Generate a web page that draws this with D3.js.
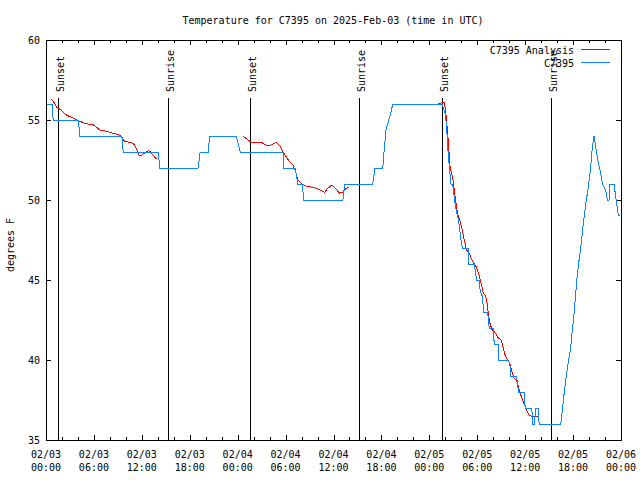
<!DOCTYPE html>
<html>
<head>
<meta charset="utf-8">
<script src="https://cdn.jsdelivr.net/npm/d3@7"></script>
<style>
  html, body { margin: 0; padding: 0; background: #fff; }
  svg text { font-family: "DejaVu Sans Mono", "Liberation Mono", monospace; font-size: 10px; fill: #000; }
</style>
</head>
<body>
<svg id="chart" width="640" height="480"></svg>
<script>
// hours after 2025-02-03 00:00 UTC
const startUtc = Date.UTC(2025, 1, 3)
const endUtc = Date.UTC(2025, 1, 6)

const sunsetHours = [1.54, 25.59, 49.54]
const sunriseHours = [15.29, 39.16, 63.2]

// station observations (C7395)
const obsHours = [
  0, 0.75, 0.9, 4.04, 4.25, 9.5, 9.66, 14.04, 14.25, 19.04, 19.3, 20.3, 20.5, 23.83,
  24.33, 29.67, 29.79, 31.2, 31.54, 32.08, 32.29, 37.17, 37.42, 40.92, 41.2, 42.17,
  42.375, 42.58, 42.92, 43.125, 43.42, 49.6,
  50.0, 50.16, 50.29, 50.5, 50.71, 50.92, 51.125, 51.25, 51.41, 51.66, 51.84, 52.04,
  52.16, 52.875, 52.91, 53.625, 53.91, 54.25, 54.375, 54.66, 54.79, 55.29, 55.5, 56.0,
  56.125, 56.66, 56.7, 57.91, 58.09, 58.21, 58.91, 59.16, 59.875, 60.0, 60.84, 60.91,
  61.125, 61.34, 61.625, 61.75, 64.46, 64.66, 64.875, 65.09, 65.375, 65.71, 65.91,
  66.125, 66.34, 66.54, 66.75, 67.0, 67.25, 67.59, 67.91, 68.21, 68.41, 68.625, 68.84,
  69.04, 69.25, 69.46, 69.66, 70.09, 70.29, 70.5, 70.59, 71.125, 71.34, 71.66, 71.9
]
const obsTemps = [
  56, 56, 55, 55, 54, 54, 53, 53, 52, 52, 53, 53, 54, 54,
  53, 53, 52, 52, 51, 51, 50, 50, 51, 51, 52, 52,
  53.3, 54.4, 55, 55.3, 56, 56,
  55.4, 54.6, 53.4, 52.1, 51, 51, 50.2, 49.7, 49.27, 48.75, 48, 47.19,
  47, 47, 46, 46, 45, 45, 44.27, 43.96, 43, 43, 42, 42,
  41, 41, 40, 40, 39.7, 39, 39, 38, 38, 37, 37, 36,
  36, 37, 37, 36, 36, 36.9, 37.9, 38.75, 39.8, 40.8, 41.9,
  42.9, 44.2, 45.4, 46.25, 47.2, 48.4, 49.8, 50.8, 52.1, 53.3, 54, 53.3,
  52.7, 52.1, 51.7, 51.04, 50.6, 50, 50, 51, 51, 50.2, 49.06, 49
]

// analysis series, null marks a gap
const anaHours = [
  0.625, 0.875, 1.33, 1.75, 2.58, 3.21, 3.83, 4.67, 5.29, 5.92, 6.33, 6.75, 7.58, 8.42,
  9.04, 9.46, 9.75, 10.29, 10.92, 11.25, 11.67, 11.96, 12.375, 12.79, 13.08, 13.42, 13.75, 13.96,
  null,
  24.67, 25.29, 25.71, 26.96, 27.79, 28.25, 28.83, 29.25, 29.67, 30.08, 30.5, 30.92, 31.25,
  31.54, 31.96, 32.375, 33.0, 33.83, 34.33, 34.875, 35.29, 35.79, 36.25, 36.75, 37.17, 37.58, 37.92,
  null,
  48.625, 49.04, 49.67, 49.875, 50.0, 50.16, 50.29, 50.41, 50.5, 50.59, 50.75, 50.92, 51.125,
  51.34, 51.54, 51.84, 52.09, 52.375, 52.66, 53.0, 53.34, 53.625, 53.91, 54.16, 54.375, 54.59,
  54.75, 55.0, 55.21, 55.375, 55.59, 55.84, 56.125, 56.41, 56.66, 56.96, 57.16, 57.41, 57.79,
  58.09, 58.34, 58.625, 58.91, 59.16, 59.46, 59.75, 60.09, 60.5, 60.91, 61.66
]
const anaTemps = [
  56.3, 56.2, 55.8, 55.67, 55.3, 55.17, 55.0, 54.83, 54.75, 54.7, 54.54, 54.375, 54.29, 54.17,
  54.08, 53.96, 53.7, 53.62, 53.54, 53.29, 52.8, 52.8, 52.96, 53.08, 53.0, 52.8, 52.6, 52.6,
  null,
  54.0, 53.75, 53.6, 53.6, 53.375, 53.45, 53.6, 53.4, 53.02, 52.7, 52.4, 52.19, 51.77,
  51.25, 51.04, 50.9, 50.83, 50.73, 50.625, 50.48, 50.73, 50.94, 50.73, 50.42, 50.5, 50.73, 50.77,
  null,
  56.0, 56.0, 56.1, 56.1, 55.7, 55.0, 54.17, 53.5, 52.7, 52.1, 51.7, 51.46, 50.625,
  49.8, 49.1, 48.7, 48.2, 47.5, 46.875, 46.67, 46.25, 46.0, 45.79, 45.42, 45.0, 44.58,
  44.17, 44.06, 43.64, 42.92, 42.29, 41.92, 41.77, 41.56, 41.35, 41.3, 40.94, 40.42, 40.0,
  39.8, 39.27, 38.85, 38.75, 38.33, 37.81, 37.4, 36.98, 36.56, 36.46, 36.5
]

const yTicks = [35, 40, 45, 50, 55, 60]

const toDate = h => new Date(startUtc + h * 3600e3)

const obs = obsHours.map((h, i) => ({ t: toDate(h), v: obsTemps[i] }))
const ana = anaHours.map((h, i) => h === null ? null : ({ t: toDate(h), v: anaTemps[i] }))

const plotLeft = 46, plotRight = 621, plotTop = 40, plotBottom = 440

const x = d3.scaleUtc().domain([new Date(startUtc), new Date(endUtc)]).range([plotLeft, plotRight])
const y = d3.scaleLinear().domain([35, 60]).range([plotBottom, plotTop])

const svg = d3.select('#chart')

svg.append('defs').append('clipPath').attr('id', 'plot-clip')
  .append('rect')
  .attr('x', plotLeft).attr('y', plotTop)
  .attr('width', plotRight - plotLeft).attr('height', plotBottom - plotTop)

// title
svg.append('text')
  .attr('x', 333).attr('y', 24)
  .attr('text-anchor', 'middle')
  .text('Temperature for C7395 on 2025-Feb-03 (time in UTC)')

// y label
svg.append('text')
  .attr('transform', 'translate(13.5,245) rotate(-90)')
  .attr('text-anchor', 'middle')
  .text('degrees F')

// x ticks: minor every 2 h, major every 6 h, on bottom and top
const minorTicks = d3.utcHour.every(2).range(new Date(startUtc), new Date(endUtc + 1))
const majorTicks = d3.utcHour.every(6).range(new Date(startUtc), new Date(endUtc + 1))

const tickG = svg.append('g').attr('stroke', '#000').attr('stroke-width', 1).attr('shape-rendering', 'crispEdges')
minorTicks.forEach(d => {
  const isMajor = d.getUTCHours() % 6 === 0
  const len = isMajor ? 5 : 3
  const px = Math.round(x(d)) + 0.5
  tickG.append('line').attr('x1', px).attr('x2', px).attr('y1', plotBottom).attr('y2', plotBottom - len)
  tickG.append('line').attr('x1', px).attr('x2', px).attr('y1', plotTop).attr('y2', plotTop + len)
})
yTicks.forEach(v => {
  const py = Math.round(y(v)) + 0.5
  tickG.append('line').attr('x1', plotLeft).attr('x2', plotLeft + 5).attr('y1', py).attr('y2', py)
  tickG.append('line').attr('x1', plotRight).attr('x2', plotRight - 5).attr('y1', py).attr('y2', py)
})

// x tick labels
const fmtDay = d3.utcFormat('%m/%d')
const fmtTime = d3.utcFormat('%H:%M')
majorTicks.forEach(d => {
  const t = svg.append('text')
    .attr('x', x(d)).attr('y', 458)
    .attr('text-anchor', 'middle')
  t.append('tspan').attr('x', x(d)).text(fmtDay(d))
  t.append('tspan').attr('x', x(d)).attr('y', 471).text(fmtTime(d))
})

// y tick labels
yTicks.forEach(v => {
  svg.append('text')
    .attr('x', 40).attr('y', y(v) + 4)
    .attr('text-anchor', 'end')
    .text(v)
})

// sunrise / sunset markers
const sunEvents = sunsetHours.map(h => ({ h, label: 'Sunset' }))
  .concat(sunriseHours.map(h => ({ h, label: 'Sunrise' })))

const sunG = svg.append('g')
sunEvents.forEach(e => {
  const px = Math.round(x(toDate(e.h))) + 0.5
  sunG.append('line')
    .attr('x1', px).attr('x2', px)
    .attr('y1', 98).attr('y2', plotBottom)
    .attr('stroke', '#000').attr('stroke-width', 1)
    .attr('shape-rendering', 'crispEdges')
  sunG.append('text')
    .attr('transform', `translate(${px + 5},92) rotate(-90)`)
    .text(e.label)
})

const line = d3.line()
  .defined(d => d !== null)
  .x(d => x(d.t))
  .y(d => y(d.v))

const plot = svg.append('g').attr('clip-path', 'url(#plot-clip)')

plot.append('path')
  .datum(ana)
  .attr('fill', 'none')
  .attr('stroke', '#ff0000')
  .attr('stroke-width', 1)
  .attr('shape-rendering', 'crispEdges')
  .attr('d', line)

plot.append('path')
  .datum(obs)
  .attr('fill', 'none')
  .attr('stroke', '#0a84ff')
  .attr('stroke-width', 1)
  .attr('shape-rendering', 'crispEdges')
  .attr('d', line)

// frame
svg.append('rect')
  .attr('x', plotLeft + 0.5).attr('y', plotTop + 0.5)
  .attr('width', plotRight - plotLeft).attr('height', plotBottom - plotTop)
  .attr('fill', 'none').attr('stroke', '#000').attr('stroke-width', 1)
  .attr('shape-rendering', 'crispEdges')

// legend
const legendItems = [
  { label: 'C7395 Analysis', color: '#ff0000', y: 49.5 },
  { label: 'C7395', color: '#0a84ff', y: 62.5 }
]
legendItems.forEach(it => {
  svg.append('text')
    .attr('x', 574).attr('y', it.y + 4)
    .attr('text-anchor', 'end')
    .text(it.label)
  svg.append('line')
    .attr('x1', 581).attr('x2', 610)
    .attr('y1', it.y).attr('y2', it.y)
    .attr('stroke', it.color).attr('stroke-width', 1)
    .attr('shape-rendering', 'crispEdges')
})
</script>
</body>
</html>
